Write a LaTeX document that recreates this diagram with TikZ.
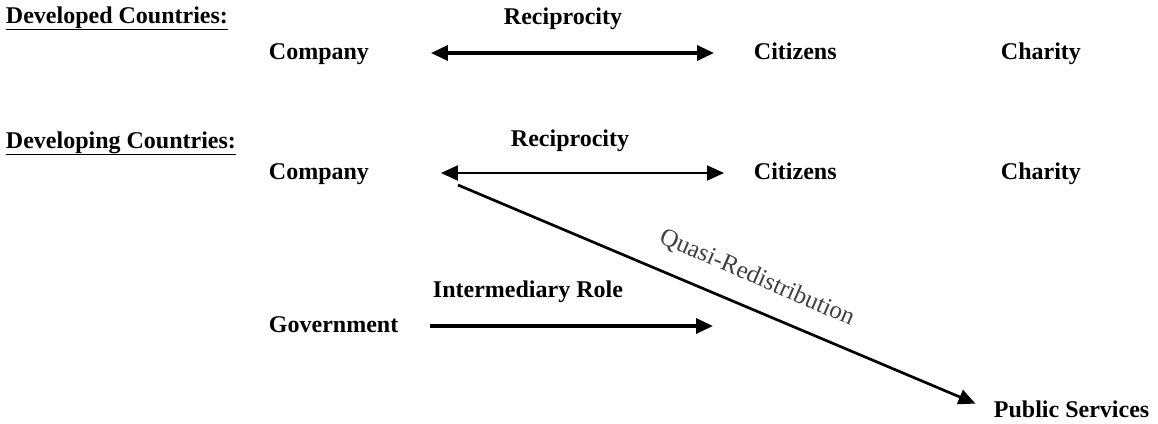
\documentclass[tikz,border=0pt]{standalone}
\usepackage{fontspec}
\setmainfont{Liberation Serif}
\usetikzlibrary{arrows.meta}

\begin{document}
\begin{tikzpicture}[x=1pt,y=1pt,yscale=-1,xscale=1,
		lbl/.style={anchor=base west,inner sep=0.75pt,text height=16pt,text depth=4pt,font=\fontsize{24}{28}\selectfont\bfseries},
		head/.tip={Triangle[length=17pt,width=15pt]},
		flow/.style={-head,line width=3.3pt}]
		% Set diagram size to 1158 x 423
		\path[use as bounding box] (0,0) rectangle (1158,423);

		% The headings (underlined)
		\node[lbl] (devd) at (5,23) {\underline{Developed Countries:}};
		\node[lbl] (devg) at (5,148) {\underline{Developing Countries:}};

		% First row: developed countries
		\node[lbl] (comp1) at (268,59) {Company};
		\node[lbl] (cit1) at (753,59) {Citizens};
		\node[lbl] (char1) at (1000,59) {Charity};
		\node[lbl] (rec1) at (503,24) {Reciprocity};

		% Second row: developing countries
		\node[lbl] (comp2) at (268,179) {Company};
		\node[lbl] (cit2) at (753,179) {Citizens};
		\node[lbl] (char2) at (1000,179) {Charity};
		\node[lbl] (rec2) at (510,146) {Reciprocity};

		% Government and public services
		\node[lbl] (gov) at (268,332) {Government};
		\node[lbl] (inter) at (432,297) {Intermediary Role};
		\node[lbl] (pub) at (993,417) {Public Services};

		% Free ends of the arrows
		\coordinate (govend) at (713,326);
		\coordinate (qstart) at (458,185);

		% The reciprocity arrows (double headed)
		\draw[flow,head-head,shorten <=61pt,shorten >=39pt] (comp1) -- (cit1);
		\draw[flow,head-head,line width=2pt,shorten <=71pt,shorten >=29pt] (comp2) -- (cit2);

		% The intermediary arrow
		\draw[flow,shorten <=31pt] (gov) -- (govend);

		% The quasi-redistribution arrow and its slanted label
		\draw[flow,line width=2.7pt,shorten >=19pt] (qstart) -- (pub.west);
		\node[rotate=-23.5,inner sep=0.75pt,text=black!75,font=\fontsize{25}{29}\selectfont] (quasi) at (757,278) {Quasi-Redistribution};
	\end{tikzpicture}
\end{document}
